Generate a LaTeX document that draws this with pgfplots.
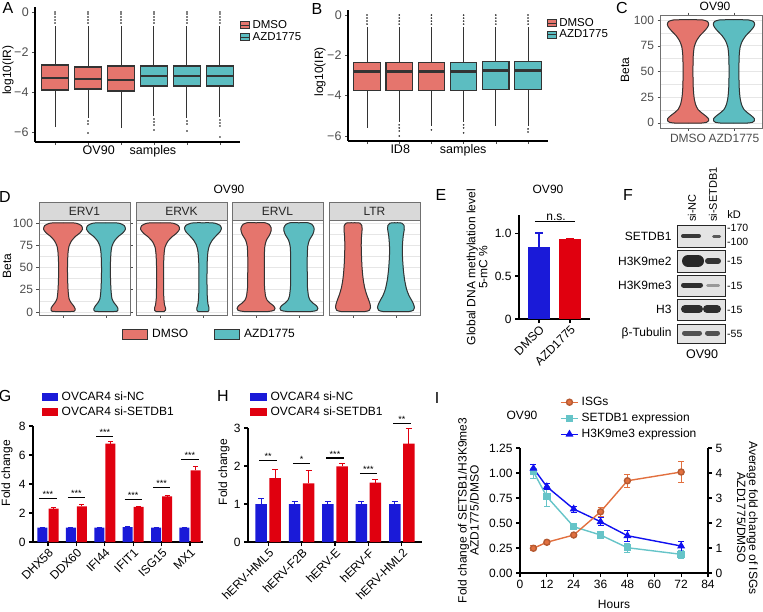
\documentclass[border=0pt]{standalone}
\usepackage{fontspec}
\setmainfont{Liberation Sans}
\usepackage{pgfplots}
\usepackage{pgfplotstable}
\pgfplotsset{compat=1.18}

\definecolor{dmso}{HTML}{E5756D}
\definecolor{azd}{HTML}{5CBDC1}
\definecolor{boxline}{HTML}{333333}
\definecolor{vline}{HTML}{333333}
\definecolor{gblue}{HTML}{1A1AD8}
\definecolor{gred}{HTML}{E0000F}
\definecolor{iorange}{HTML}{E2703F}
\definecolor{icyan}{HTML}{66C4C8}
\definecolor{iblue}{HTML}{1010F0}
\definecolor{tickgray}{HTML}{4D4D4D}
\definecolor{gridgray}{HTML}{E6E6E6}
\definecolor{stripgray}{HTML}{D9D9D9}
\definecolor{framegray}{HTML}{707070}
\definecolor{blotbg}{HTML}{E4E4E4}

\newcommand{\fs}[1]{\fontsize{#1}{#1}\selectfont}

\pgfplotsset{
 every axis/.append style={scale only axis, anchor=south west, font=\fs{12},
   /pgf/number format/assume math mode=true,
   tick label style={font=\fs{12}}, label style={font=\fs{12}}},
 ggtheme/.style={axis line style={framegray, line width=0.8pt},
   ytick={0,25,50,75,100}, minor ytick={12.5,37.5,62.5,87.5},
   ymajorgrids, yminorgrids, major grid style={gridgray, line width=0.7pt},
   minor grid style={gridgray, line width=0.35pt}, xtick={1,2},
   tick align=outside, major tick length=2.5pt, minor tick length=0pt,
   tick style={tickgray, line width=0.6pt},
   yticklabel style={text=tickgray}, xticklabel style={text=tickgray}},
 prismaxis/.style={axis x line*=bottom, axis y line*=left,
   axis line style={-, black, line width=1.1pt},
   every outer x axis line/.append style={-}, every outer y axis line/.append style={-},
   tick align=outside, major tick length=4pt, tick style={black, line width=1.1pt}, clip=false},
 rbox/.style={axis x line*=bottom, axis y line*=left,
   axis line style={-, black, line width=1.8pt},
   every outer x axis line/.append style={-}, every outer y axis line/.append style={-},
   tick align=outside, major tick length=3pt, tick style={tickgray, line width=0.6pt},
   yticklabel style={text=tickgray, font=\fs{12.5}},
   xtick={1,2,3,4,5,6}, xticklabels={},
   ytick={-6,-4,-2,0}, yticklabels={−6,−4,−2,},
   clip=false,
   legend cell align=left,
   legend image code/.code={\draw[#1] (0pt,-3.5pt) rectangle (9pt,3.5pt); \draw[boxline,line width=0.9pt] (0pt,0pt)--(9pt,0pt);}},
}

% pos, left, right, lower whisker, lower quartile, median, upper quartile, upper whisker, colour
\newcommand{\mybox}[9]{%
 \addplot[forget plot, boxline, line width=1pt] coordinates {(#1,#4)(#1,#5)};
 \addplot[forget plot, boxline, line width=1pt] coordinates {(#1,#7)(#1,#8)};
 \addplot[forget plot, fill=#9, draw=boxline, line width=1.1pt] coordinates {(#2,#5)(#3,#5)(#3,#7)(#2,#7)} -- cycle;
 \addplot[forget plot, boxline, line width=2.3pt] coordinates {(#2,#6)(#3,#6)};
}

\newcommand{\violin}[4]{%
 \addplot[forget plot, fill=#4, draw=#4, line width=0.5pt, smooth, tension=0.35] table[x expr=#2+\thisrow{w}/#3, y=y] {#1} -- cycle;
 \addplot[forget plot, fill=#4, draw=#4, line width=0.5pt, smooth, tension=0.35] table[x expr=#2-\thisrow{w}/#3, y=y] {#1} -- cycle;
 \addplot[forget plot, draw=vline, line width=1pt, smooth, tension=0.35] table[x expr=#2+\thisrow{w}/#3, y=y] {#1};
 \addplot[forget plot, draw=vline, line width=1pt, smooth, tension=0.35] table[x expr=#2-\thisrow{w}/#3, y=y] {#1};
}

\pgfplotstableread{
w y
0 -0.3
12 -0.3
18.5 0.5
20.5 2
20.5 4
18 6.5
14 9.5
10 13
7.5 18
6 25
5.2 35
4.9 50
5.2 65
6.2 74
8.5 80
12 85
16 89
19.5 93
20.7 96
19.5 98.7
15 100.1
8 100.4
0 100.4
}\vCa

\pgfplotstableread{
w y
0 0.5
7 0.5
11 0.8
12 2
12 4
10.5 7
8 10.5
6 15
5 25
4.5 40
4.5 55
5 67
6 74
8.5 80
12.5 85
17 89
19.5 93
18.5 97
14 99.6
9 100.2
0 100.2
}\vDa

\pgfplotstableread{
w y
0 0.5
4 0.5
5.5 2
5.5 4.5
4.5 8
3.8 15
3.5 30
3.5 50
4 65
5 73
7.5 79
12 84.5
16.5 88.5
19.5 93
18.5 97
14 99.6
9 100.2
0 100.2
}\vKa

\pgfplotstableread{
w y
0 0.5
5 0.5
6 2
6 5
5 9
4.3 18
4 35
4.2 55
5 68
6.5 75
9.5 81
13.5 86
17 90
18.5 94
17 97.5
12 99.8
7 100.3
0 100.3
}\vKb

\pgfplotstableread{
w y
0 0.5
12 0.5
18 1.8
19 4
17.5 7
14 10
11 13.5
9.5 18
8.5 28
8.3 45
8.3 62
8.8 74
10.5 81
13.5 86.5
15 91
15 95
13 98.5
9 100.3
0 100.3
}\vLa

\pgfplotstableread{
w y
0 0.5
12 0.5
16.5 2
17.5 5
17 9
15.5 14
13.5 20
11.5 28
10 38
9 50
8.5 62
8.2 75
8.5 85
9 92
8.8 97
7 99.8
4 100.3
0 100.3
}\vTa

\pgfplotstableread{
w y
0 0.5
13 0.5
17.5 2
18.5 5
17.5 9
15.5 13.5
13 18.5
10.5 26
8.5 37
7.2 50
6.5 63
6.5 75
7.2 85
8.3 93
8 97.5
6 99.8
3.5 100.3
0 100.3
}\vTb

\begin{document}
\begin{tikzpicture}
\useasboundingbox (0pt,0pt) rectangle (763pt,-611pt);

% ---------------- Panel A ----------------
\begin{axis}[at={(35pt,-142pt)}, width=205pt, height=135pt, rbox,
  xmin=0.39, xmax=6.61, ymin=-6.5, ymax=0.25,
  ylabel={log10(IR)}, ylabel style={at={(axis description cs:-0.132,0.533)}, anchor=center},
  xlabel={OV90\hspace{15pt}samples}, xlabel style={at={(axis description cs:0.461,-0.067)}, anchor=center, font=\fs{12.5}},
  legend style={at={(1.0,0.911)}, anchor=north west, draw=none, fill=none, font=\fs{11.5}, inner sep=0pt,
    nodes={inner sep=0.5pt, text height=8.5pt, text depth=2.5pt}, column sep=2pt}]
\addlegendimage{fill=dmso, draw=boxline, line width=0.8pt}\addlegendentry{DMSO}
\addlegendimage{fill=azd, draw=boxline, line width=0.8pt}\addlegendentry{AZD1775}
\mybox{1}{0.59}{1.41}{-5.75}{-3.9}{-3.3}{-2.65}{-0.7}{dmso}
\mybox{2}{1.59}{2.41}{-5.3}{-3.85}{-3.35}{-2.75}{-0.7}{dmso}
\mybox{3}{2.59}{3.41}{-5.8}{-3.95}{-3.4}{-2.7}{-0.7}{dmso}
\mybox{4}{3.59}{4.41}{-5.2}{-3.7}{-3.2}{-2.7}{-0.7}{azd}
\mybox{5}{4.59}{5.41}{-5.3}{-3.7}{-3.2}{-2.7}{-0.7}{azd}
\mybox{6}{5.59}{6.41}{-5.25}{-3.7}{-3.2}{-2.7}{-0.7}{azd}
\addplot[forget plot, only marks, mark=*, mark size=0.6pt, boxline] coordinates {
 (1,-0.55)(1,-0.4)(1,-0.25)(1,-0.1)(1,0)
 (2,-0.55)(2,-0.4)(2,-0.25)(2,-0.1)(2,0)(2,-5.45)(2,-5.6)(2,-6.05)
 (3,-0.55)(3,-0.4)(3,-0.25)(3,-0.1)(3,0)
 (4,-0.55)(4,-0.4)(4,-0.25)(4,-0.1)(4,0)(4,-5.35)(4,-5.5)(4,-5.65)(4,-5.9)
 (5,-0.55)(5,-0.4)(5,-0.25)(5,-0.1)(5,0)(5,-5.45)(5,-5.6)(5,-5.95)
 (6,-0.55)(6,-0.4)(6,-0.25)(6,-0.1)(6,0)(6,-5.4)(6,-5.55)(6,-5.7)(6,-6.25)};
\end{axis}

% ---------------- Panel B ----------------
\begin{axis}[at={(348pt,-141pt)}, width=200pt, height=131pt, rbox,
  xmin=0.41, xmax=6.62, ymin=-6.25, ymax=0.25,
  ylabel={log10(IR)}, ylabel style={at={(axis description cs:-0.14,0.527)}, anchor=center},
  xlabel={ID8\hspace{30pt}samples}, xlabel style={at={(axis description cs:0.4525,-0.069)}, anchor=center, font=\fs{12.5}},
  legend style={at={(0.995,0.943)}, anchor=north west, draw=none, fill=none, font=\fs{11.5}, inner sep=0pt,
    nodes={inner sep=0.25pt, text height=8.3pt, text depth=2.5pt}, column sep=2pt}]
\addlegendimage{fill=dmso, draw=boxline, line width=0.8pt}\addlegendentry{DMSO}
\addlegendimage{fill=azd, draw=boxline, line width=0.8pt}\addlegendentry{AZD1775}
\mybox{1}{0.59}{1.41}{-5.6}{-3.75}{-2.8}{-2.35}{-0.6}{dmso}
\mybox{2}{1.59}{2.41}{-5.3}{-3.75}{-2.8}{-2.35}{-0.6}{dmso}
\mybox{3}{2.59}{3.41}{-5.5}{-3.75}{-2.8}{-2.35}{-0.6}{dmso}
\mybox{4}{3.59}{4.41}{-5.3}{-3.75}{-2.8}{-2.35}{-0.6}{azd}
\mybox{5}{4.59}{5.41}{-5.5}{-3.7}{-2.75}{-2.3}{-0.6}{azd}
\mybox{6}{5.59}{6.41}{-5.5}{-3.7}{-2.75}{-2.3}{-0.6}{azd}
\addplot[forget plot, only marks, mark=*, mark size=0.6pt, boxline] coordinates {
 (1,-0.45)(1,-0.3)(1,-0.15)(1,0)
 (2,-0.45)(2,-0.3)(2,-0.15)(2,0)(2,-5.45)(2,-5.6)(2,-5.75)(2,-6.0)
 (3,-0.45)(3,-0.3)(3,-0.15)(3,0)(3,-5.7)
 (4,-0.45)(4,-0.3)(4,-0.15)(4,0)(4,-5.45)(4,-5.6)(4,-5.85)
 (5,-0.45)(5,-0.3)(5,-0.15)(5,0)
 (6,-0.45)(6,-0.3)(6,-0.15)(6,0)(6,-5.65)(6,-5.8)};
\end{axis}

% ---------------- Panel C ----------------
\begin{axis}[at={(660pt,-128pt)}, width=102pt, height=113pt, ggtheme,
  xmin=0.39, xmax=2.61, ymin=-5, ymax=105,
  xticklabels={DMSO,AZD1775},
  ylabel={Beta}, ylabel style={at={(axis description cs:-0.343,0.513)}, anchor=center}]
\violin{\vCa}{1}{46}{dmso}
\violin{\vCa}{2}{46}{azd}
\end{axis}

% ---------------- Panel D ----------------
\begin{axis}[name=d1, at={(39pt,-315pt)}, width=91pt, height=95pt, ggtheme,
  xmin=0.44, xmax=2.56, ymin=-3.4, ymax=103.4, xticklabels={},
  ylabel={Beta}, ylabel style={at={(axis description cs:-0.352,0.516)}, anchor=center},
  legend style={at={(1.863,-0.2)}, anchor=center, legend columns=2, draw=none, fill=none, font=\fs{12},
    /tikz/every even column/.append style={column sep=25pt},
    /tikz/every odd column/.append style={column sep=4pt}, nodes={inner sep=0.5pt}},
  legend image code/.code={\draw[#1] (0pt,-5pt) rectangle (25pt,5pt);}]
\addlegendimage{fill=dmso, draw=vline, line width=1pt}\addlegendentry{DMSO}
\addlegendimage{fill=azd, draw=vline, line width=1pt}\addlegendentry{AZD1775}
\violin{\vDa}{1}{43}{dmso}
\violin{\vDa}{2}{43}{azd}
\end{axis}
\begin{axis}[name=d2, at={(136pt,-315pt)}, width=91pt, height=95pt, ggtheme,
  xmin=0.44, xmax=2.56, ymin=-3.4, ymax=103.4, xticklabels={}, yticklabels={}, y tick style={draw=none}]
\violin{\vKa}{1}{43}{dmso}
\violin{\vKb}{2}{43}{azd}
\end{axis}
\begin{axis}[name=d3, at={(232pt,-315pt)}, width=91pt, height=95pt, ggtheme,
  xmin=0.44, xmax=2.56, ymin=-3.4, ymax=103.4, xticklabels={}, yticklabels={}, y tick style={draw=none}]
\violin{\vLa}{1}{43}{dmso}
\violin{\vLa}{2}{43}{azd}
\end{axis}
\begin{axis}[name=d4, at={(329pt,-315pt)}, width=91pt, height=95pt, ggtheme,
  xmin=0.44, xmax=2.56, ymin=-3.4, ymax=103.4, xticklabels={}, yticklabels={}, y tick style={draw=none}]
\violin{\vTa}{1}{43}{dmso}
\violin{\vTb}{2}{43}{azd}
\end{axis}
\foreach \n/\t in {d1/ERV1,d2/ERVK,d3/ERVL,d4/LTR}{
  \draw[fill=stripgray, draw=framegray, line width=0.8pt] (\n.north west) rectangle ([yshift=18pt]\n.north east);
  \node[font=\fs{12}, text=black!85] at ([yshift=9pt]\n.north) {\t};
}

% ---------------- Panel E ----------------
\begin{axis}[at={(519pt,-319pt)}, width=71pt, height=104pt, prismaxis,
  xmin=0.355, xmax=2.645, ymin=0, ymax=1.21,
  ytick={0,0.5,1}, yticklabels={0,0.5,1.0},
  xtick={1,2}, xticklabels={DMSO,AZD1775},
  xticklabel style={rotate=45, anchor=north east, inner sep=1pt},
  ylabel={Global DNA methylation level\\5-mC \%},
  ylabel style={at={(axis description cs:-0.592,0.5)}, anchor=center, align=center}]
\addplot[ybar, bar width=22pt, fill=gblue, draw=none, error bars/.cd, y dir=plus, y explicit,
  error bar style={gblue, line width=1.2pt}, error mark options={gblue, rotate=90, mark size=4pt, line width=1.2pt}]
  coordinates {(1,0.84) +- (0,0.16)};
\addplot[ybar, bar width=22pt, fill=gred, draw=none, error bars/.cd, y dir=plus, y explicit,
  error bar style={gred, line width=1.2pt}, error mark options={gred, rotate=90, mark size=4pt, line width=1.2pt}]
  coordinates {(2,0.93) +- (0,0.01)};
\addplot[black, line width=1.2pt] coordinates {(0.87,1.13) (2.16,1.13)};
\node[anchor=south, font=\fs{12}, inner sep=1.5pt] at (axis cs:1.55,1.13) {n.s.};
\end{axis}

% ---------------- Panel F (western blot) ----------------
\begin{axis}[at={(677pt,-345pt)}, width=48pt, height=123pt, axis lines=none, clip=false,
  xmin=677, xmax=725, ymin=-345, ymax=-222]
\addplot[fill=blotbg, draw=black!85, line width=1pt] coordinates {(677,-225)(725,-225)(725,-247)(677,-247)} -- cycle;
\addplot[fill=blotbg, draw=black!85, line width=1pt] coordinates {(677,-250)(725,-250)(725,-272)(677,-272)} -- cycle;
\addplot[fill=blotbg, draw=black!85, line width=1pt] coordinates {(677,-275)(725,-275)(725,-296)(677,-296)} -- cycle;
\addplot[fill=blotbg, draw=black!85, line width=1pt] coordinates {(677,-299)(725,-299)(725,-320)(677,-320)} -- cycle;
\addplot[fill=blotbg, draw=black!85, line width=1pt] coordinates {(677,-324)(725,-324)(725,-343)(677,-343)} -- cycle;
\addplot[line width=4pt, line cap=round, draw=black!78] coordinates {(683,-236)(699,-236)};
\addplot[line width=3pt, line cap=round, draw=black!65] coordinates {(713.5,-236)(719.5,-236)};
\addplot[line width=12pt, line cap=round, draw=black!85] coordinates {(688,-261)(698,-261)};
\addplot[line width=6pt, line cap=round, draw=black!80] coordinates {(708,-261)(718,-261)};
\addplot[line width=5pt, line cap=round, draw=black!82] coordinates {(683.5,-285)(700.5,-285)};
\addplot[line width=3pt, line cap=round, draw=black!40] coordinates {(707.5,-285)(718.5,-285)};
\addplot[line width=8pt, line cap=round, draw=black!82] coordinates {(685,-309)(699,-309)};
\addplot[line width=8pt, line cap=round, draw=black!82] coordinates {(707,-309)(717,-309)};
\addplot[line width=5pt, line cap=round, draw=black!68] coordinates {(684.5,-333)(699.5,-333)};
\addplot[line width=5pt, line cap=round, draw=black!68] coordinates {(707.5,-333)(717.5,-333)};
\node[anchor=east, font=\fs{12}] at (axis cs:675,-236) {SETDB1};
\node[anchor=east, font=\fs{12}] at (axis cs:675,-261) {H3K9me2};
\node[anchor=east, font=\fs{12}] at (axis cs:675,-285.5) {H3K9me3};
\node[anchor=east, font=\fs{12}] at (axis cs:675,-309.5) {H3};
\node[anchor=east, font=\fs{12}] at (axis cs:675,-333.5) {β-Tubulin};
\node[anchor=west, font=\fs{10.5}, inner sep=1pt] at (axis cs:726,-228) {-170};
\node[anchor=west, font=\fs{10.5}, inner sep=1pt] at (axis cs:726,-242) {-100};
\node[anchor=west, font=\fs{10.5}, inner sep=1pt] at (axis cs:726,-261) {-15};
\node[anchor=west, font=\fs{10.5}, inner sep=1pt] at (axis cs:726,-285.5) {-15};
\node[anchor=west, font=\fs{10.5}, inner sep=1pt] at (axis cs:726,-309.5) {-15};
\node[anchor=west, font=\fs{10.5}, inner sep=1pt] at (axis cs:726,-333.5) {-55};
\node[font=\fs{11}] at (axis cs:734,-215) {kD};
\node[rotate=90, anchor=west, font=\fs{11}, inner sep=1pt] at (axis cs:692,-223) {si-NC};
\node[rotate=90, anchor=west, font=\fs{11}, inner sep=1pt] at (axis cs:713,-223) {si-SETDB1};
\node[font=\fs{12.5}] at (axis cs:702,-354) {OV90};
\end{axis}

% ---------------- Panel G ----------------
\begin{axis}[at={(33pt,-542pt)}, width=170pt, height=116pt, prismaxis,
  xmin=0.472, xmax=6.458, ymin=0, ymax=8, ytick={0,2,4,6,8},
  xtick={1,...,6}, xticklabels={DHX58,DDX60,IFI44,IFIT1,ISG15,MX1},
  xticklabel style={rotate=45, anchor=north east, inner sep=1pt},
  ylabel={Fold change}, ylabel style={at={(axis description cs:-0.153,0.595)}, anchor=center},
  legend style={at={(0.053,1.315)}, anchor=north west, draw=none, fill=none, font=\fs{12}, inner sep=0pt,
    nodes={inner sep=1.5pt, text height=9pt, text depth=3pt}, column sep=2pt},
  legend cell align=left,
  legend image code/.code={\fill[#1] (0pt,-4pt) rectangle (16pt,4pt);}]
\addlegendimage{fill=gblue, draw=none}\addlegendentry{OVCAR4 si-NC}
\addlegendimage{fill=gred, draw=none}\addlegendentry{OVCAR4 si-SETDB1}
\addplot[forget plot, ybar, bar width=10pt, fill=gblue, draw=none, error bars/.cd, y dir=plus, y explicit,
  error bar style={gblue, line width=1pt}, error mark options={gblue, rotate=90, mark size=2.5pt, line width=1pt}]
  coordinates {(0.806,1) +- (0,0.03) (1.806,1) +- (0,0.03) (2.806,1) +- (0,0.03) (3.806,1.02) +- (0,0.04) (4.806,1) +- (0,0.03) (5.806,1) +- (0,0.03)};
\addplot[forget plot, ybar, bar width=10pt, fill=gred, draw=none, error bars/.cd, y dir=plus, y explicit,
  error bar style={gred, line width=1pt}, error mark options={gred, rotate=90, mark size=2.5pt, line width=1pt}]
  coordinates {(1.194,2.3) +- (0,0.05) (2.194,2.46) +- (0,0.15) (3.194,6.78) +- (0,0.13) (4.194,2.42) +- (0,0.05) (5.194,3.15) +- (0,0.05) (6.194,4.94) +- (0,0.25)};
\addplot[forget plot, black, line width=1.1pt] coordinates {(0.7,2.99) (1.3,2.99)};
\addplot[forget plot, black, line width=1.1pt] coordinates {(1.7,3.1) (2.3,3.1)};
\addplot[forget plot, black, line width=1.1pt] coordinates {(2.7,7.3) (3.3,7.3)};
\addplot[forget plot, black, line width=1.1pt] coordinates {(3.7,2.95) (4.3,2.95)};
\addplot[forget plot, black, line width=1.1pt] coordinates {(4.7,3.75) (5.3,3.75)};
\addplot[forget plot, black, line width=1.1pt] coordinates {(5.7,5.7) (6.3,5.7)};
\node[anchor=south, font=\fs{9}, inner sep=0.5pt] at (axis cs:1,2.99) {***};
\node[anchor=south, font=\fs{9}, inner sep=0.5pt] at (axis cs:2,3.1) {***};
\node[anchor=south, font=\fs{9}, inner sep=0.5pt] at (axis cs:3,7.3) {***};
\node[anchor=south, font=\fs{9}, inner sep=0.5pt] at (axis cs:4,2.95) {***};
\node[anchor=south, font=\fs{9}, inner sep=0.5pt] at (axis cs:5,3.75) {***};
\node[anchor=south, font=\fs{9}, inner sep=0.5pt] at (axis cs:6,5.7) {***};
\end{axis}

% ---------------- Panel H ----------------
\begin{axis}[at={(248pt,-542pt)}, width=174pt, height=114pt, prismaxis,
  xmin=0.40, xmax=5.6, ymin=0, ymax=3, ytick={0,1,2,3},
  xtick={1,...,5}, xticklabels={hERV-HML5,hERV-F2B,hERV-E,hERV-F,hERV-HML2},
  xticklabel style={rotate=45, anchor=north east, inner sep=1pt},
  ylabel={Fold change}, ylabel style={at={(axis description cs:-0.138,0.614)}, anchor=center},
  legend style={at={(0.011,1.338)}, anchor=north west, draw=none, fill=none, font=\fs{12}, inner sep=0pt,
    nodes={inner sep=1.5pt, text height=9pt, text depth=3pt}, column sep=2pt},
  legend cell align=left,
  legend image code/.code={\fill[#1] (0pt,-4pt) rectangle (17pt,4pt);}]
\addlegendimage{fill=gblue, draw=none}\addlegendentry{OVCAR4 si-NC}
\addlegendimage{fill=gred, draw=none}\addlegendentry{OVCAR4 si-SETDB1}
\addplot[forget plot, ybar, bar width=11.5pt, fill=gblue, draw=none, error bars/.cd, y dir=plus, y explicit,
  error bar style={gblue, line width=1pt}, error mark options={gblue, rotate=90, mark size=3pt, line width=1pt}]
  coordinates {(0.79,1) +- (0,0.15) (1.79,1) +- (0,0.06) (2.79,1) +- (0,0.06) (3.79,1) +- (0,0.06) (4.79,1) +- (0,0.06)};
\addplot[forget plot, ybar, bar width=11.5pt, fill=gred, draw=none, error bars/.cd, y dir=plus, y explicit,
  error bar style={gred, line width=1pt}, error mark options={gred, rotate=90, mark size=3pt, line width=1pt}]
  coordinates {(1.21,1.68) +- (0,0.24) (2.21,1.54) +- (0,0.35) (3.21,1.99) +- (0,0.07) (4.21,1.56) +- (0,0.09) (5.21,2.59) +- (0,0.4)};
\addplot[forget plot, black, line width=1.1pt] coordinates {(0.74,2.14) (1.26,2.14)};
\addplot[forget plot, black, line width=1.1pt] coordinates {(1.74,2.07) (2.26,2.07)};
\addplot[forget plot, black, line width=1.1pt] coordinates {(2.74,2.21) (3.26,2.21)};
\addplot[forget plot, black, line width=1.1pt] coordinates {(3.74,1.81) (4.26,1.81)};
\addplot[forget plot, black, line width=1.1pt] coordinates {(4.74,3.13) (5.26,3.13)};
\node[anchor=south, font=\fs{9}, inner sep=0.5pt] at (axis cs:1,2.14) {**};
\node[anchor=south, font=\fs{9}, inner sep=0.5pt] at (axis cs:2,2.07) {*};
\node[anchor=south, font=\fs{9}, inner sep=0.5pt] at (axis cs:3,2.21) {***};
\node[anchor=south, font=\fs{9}, inner sep=0.5pt] at (axis cs:4,1.81) {***};
\node[anchor=south, font=\fs{9}, inner sep=0.5pt] at (axis cs:5,3.13) {**};
\end{axis}

% ---------------- Panel I ----------------
\begin{axis}[at={(520pt,-573pt)}, width=188pt, height=125pt, prismaxis,
  xmin=0, xmax=84, ymin=0, ymax=1.25,
  xtick={0,12,24,36,48,60,72,84},
  ytick={0,0.25,0.5,0.75,1,1.25}, yticklabels={0.00,0.25,0.50,0.75,1.00,1.25},
  xlabel={Hours}, xlabel style={at={(axis description cs:0.5,-0.25)}, anchor=center},
  ylabel={Fold change of SETSB1/H3K9me3\\AZD1775/DMSO},
  ylabel style={at={(axis description cs:-0.275,0.5)}, anchor=center, align=center}]
\addplot[icyan, line width=1.4pt, mark=square*, mark size=3pt, mark options={fill=icyan, draw=icyan},
  error bars/.cd, y dir=both, y explicit, error bar style={icyan, line width=1pt},
  error mark options={icyan, rotate=90, mark size=3pt, line width=1pt}]
  coordinates {(6,1.013) +- (0,0.07) (12,0.763) +- (0,0.1) (24,0.463) +- (0,0.02) (36,0.38) +- (0,0.02) (48,0.253) +- (0,0.047) (72,0.187) +- (0,0.04)};
\addplot[iblue, line width=1.4pt, mark=triangle*, mark size=3.2pt, mark options={fill=iblue, draw=iblue},
  error bars/.cd, y dir=both, y explicit, error bar style={iblue, line width=1pt},
  error mark options={iblue, rotate=90, mark size=3pt, line width=1pt}]
  coordinates {(6,1.047) +- (0,0.04) (12,0.863) +- (0,0.03) (24,0.64) +- (0,0.03) (36,0.513) +- (0,0.04) (48,0.373) +- (0,0.055) (72,0.27) +- (0,0.05)};
\end{axis}
\begin{axis}[at={(520pt,-573pt)}, width=188pt, height=125pt,
  axis x line=none, axis y line*=right,
  axis line style={-, black, line width=1.1pt}, every outer y axis line/.append style={-},
  tick align=outside, major tick length=4pt, tick style={black, line width=1.1pt}, clip=false,
  xmin=0, xmax=84, ymin=0, ymax=5, ytick={0,1,2,3,4,5},
  ylabel={Average fold change of ISGs\\AZD1775/DMSO},
  ylabel style={at={(axis description cs:1.21,0.44)}, anchor=center, align=center, rotate=180},
  legend style={at={(0.213,1.432)}, anchor=north west, draw=none, fill=none, font=\fs{12}, inner sep=0pt,
    nodes={inner sep=1pt, text height=10pt, text depth=4pt}, column sep=2pt},
  legend cell align=left]
\addplot[iorange, line width=1.4pt, mark=*, mark size=3pt, mark options={fill=iorange, draw=iorange!80!black},
  error bars/.cd, y dir=both, y explicit, error bar style={iorange, line width=1pt},
  error mark options={iorange, rotate=90, mark size=3pt, line width=1pt}]
  coordinates {(6,0.99) +- (0,0.1) (12,1.23) +- (0,0.08) (24,1.52) +- (0,0.05) (36,2.45) +- (0,0.19) (48,3.69) +- (0,0.27) (72,4.04) +- (0,0.42)};
\addlegendentry{ISGs}
\addlegendimage{icyan, line width=1.4pt, mark=square*, mark size=3pt, mark options={fill=icyan, draw=icyan}}
\addlegendentry{SETDB1 expression}
\addlegendimage{iblue, line width=1.4pt, mark=triangle*, mark size=3.2pt, mark options={fill=iblue, draw=iblue}}
\addlegendentry{H3K9me3 expression}
\end{axis}

% ---------------- titles, panel letters, top tick labels ----------------
\node[text=tickgray, font=\fs{12.5}, anchor=east, inner sep=0pt] at (29pt,-12.5pt) {0};
\node[text=tickgray, font=\fs{12.5}, anchor=east, inner sep=0pt] at (342pt,-15.5pt) {0};
\node[font=\fs{12}] at (715pt,-6pt) {OV90};
\node[font=\fs{12}] at (229pt,-189pt) {OV90};
\node[font=\fs{12}] at (548pt,-189pt) {OV90};
\node[font=\fs{12}] at (522pt,-415pt) {OV90};
\node[font=\fs{16}] at (8pt,-8pt) {A};
\node[font=\fs{16}] at (317pt,-9pt) {B};
\node[font=\fs{16}] at (622pt,-8pt) {C};
\node[font=\fs{16}] at (5pt,-197pt) {D};
\node[font=\fs{16}] at (441pt,-195pt) {E};
\node[font=\fs{16}] at (628pt,-195pt) {F};
\node[font=\fs{16}] at (5pt,-396pt) {G};
\node[font=\fs{16}] at (223pt,-396pt) {H};
\node[font=\fs{16}] at (437pt,-398pt) {I};
\end{tikzpicture}
\end{document}
